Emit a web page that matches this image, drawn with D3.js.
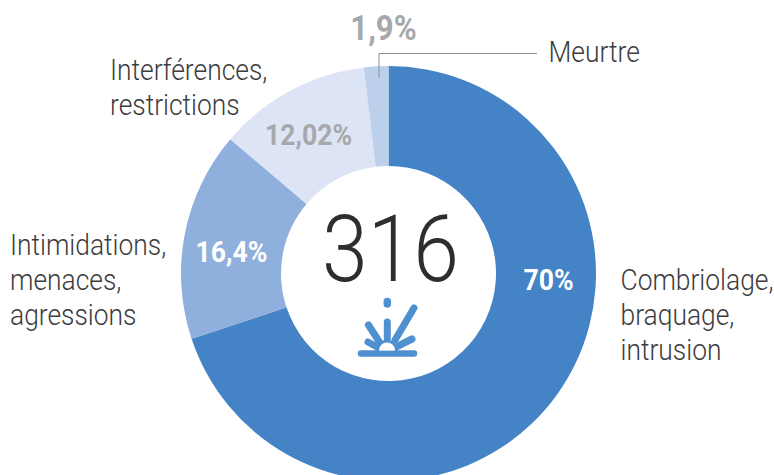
<!DOCTYPE html>
<html><head><meta charset="utf-8">
<script src="https://cdn.jsdelivr.net/npm/d3@7"></script>
<style>html,body{margin:0;background:#fff}svg{display:block}text{font-family:Roboto,sans-serif}</style>
</head><body><svg id="c" width="774" height="475"></svg>
<script>
const categories = ["Combriolage, braquage, intrusion","Intimidations, menaces, agressions","Interférences, restrictions","Meurtre"];
const sliceShares = [69.9,16.3,11.9,1.9];
const valueLabels = ["70%","16,4%","12,02%","1,9%"];
const colors = ["#4484c6","#8fafdd","#dce4f5","#bccfeb"];
const total = "316";
const W=774,H=475,cx=388.5,cy=273.5,R=207.5,r=107.5;
const svg=d3.select("#c");
const pie=d3.pie().sort(null)(sliceShares);
const arc=d3.arc().innerRadius(r).outerRadius(R);
const g=svg.append("g").attr("transform",`translate(${cx},${cy})`);
g.selectAll("path").data(pie).join("path").attr("d",arc).attr("fill",(d,i)=>colors[i]);

function txt(x,y,s,size,weight,fill,anchor,sx){
  return svg.append("text").attr("transform",`translate(${x},${y}) scale(${sx},1)`)
    .attr("font-size",size).attr("font-weight",weight).attr("fill",fill)
    .attr("text-anchor",anchor||"start").text(s);
}
const vPos=[[548.5,290,"#fff"],[231.5,262,"#fff"],[308.5,145,"#a6a8ab"],[383.5,40,"#a6a8ab"]];
valueLabels.forEach((s,i)=>txt(vPos[i][0],vPos[i][1],s,i==3?36:30,700,vPos[i][2],"middle",i==3?0.865:0.885));

const dark="#3c3c3e";
const lab=[[620.5,289.5,["Combriolage,","braquage,","intrusion"]],[10,255,["Intimidations,","menaces,","agressions"]],[110,79.5,["Interférences,","restrictions"]],[548.5,61.5,["Meurtre"]]];
lab.forEach(l=>l[2].forEach((s,j)=>txt(l[0],l[1]+j*35,s,30,300,dark,"start",0.88)));

svg.append("path").attr("d","M379,77.5V53.5H537").attr("fill","none").attr("stroke","#8d8f92").attr("stroke-width",1);

txt(cx+2,281,total,93,300,"#2e2e30","middle",0.885);

// sunburst icon
const blue="#4f90d0";
const ic=svg.append("g").attr("fill","none").attr("stroke",blue).attr("stroke-linecap","round");
ic.append("path").attr("d","M361,353.5H414").attr("stroke-width",6.5);
ic.append("path").attr("d","M387.3,301.5V304").attr("stroke-width",7.5);
ic.append("path").attr("d","M387.3,322V340").attr("stroke-width",7);
ic.append("path").attr("d","M368.5,325L380,343").attr("stroke-width",7);
ic.append("path").attr("d","M414,308L395,340").attr("stroke-width",7);
ic.append("path").attr("d","M368,342L377,347").attr("stroke-width",7);
ic.append("path").attr("d","M412,339L398,346").attr("stroke-width",7);
ic.append("path").attr("d","M377.5,351a9.5,9.5 0 0 1 19,0").attr("stroke-width",3);
ic.append("path").attr("d","M379,350.5a8,8 0 0 1 16,0z").attr("stroke","none").attr("fill","#fff");
</script></body></html>
